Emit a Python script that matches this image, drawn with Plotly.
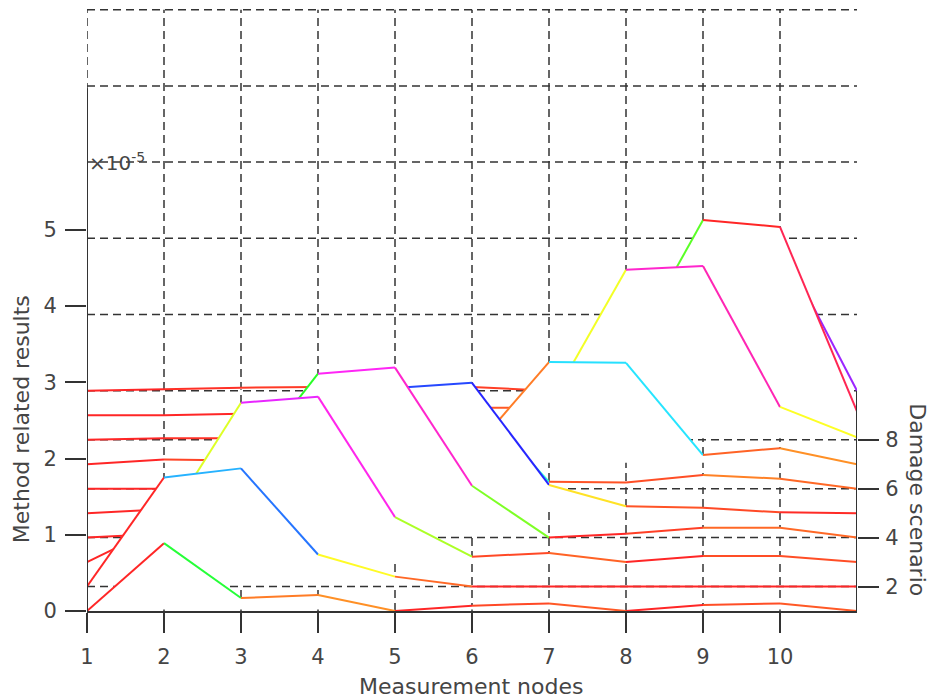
import colorsys
import plotly.graph_objects as go

# ---------------- data (values x 1e-5) ----------------
nodes = list(range(1, 12))                # measurement nodes 1..11
node_ticks = list(range(1, 11))           # labelled nodes
z_ticks = [0, 1, 2, 3, 4, 5]
scenario_ticks = [2, 4, 6, 8]
scenarios = list(range(1, 11))            # damage scenarios 1..10

s1 = [0.00, 0.89, 0.17, 0.21, 0.00, 0.07, 0.10, 0.00, 0.08, 0.10, 0.00]
s2 = [0.00, 1.43, 1.55, 0.42, 0.13, 0.00, 0.00, 0.00, 0.00, 0.00, 0.00]
s3 = [0.00, 0.49, 2.09, 2.17, 0.59, 0.07, 0.12, 0.00, 0.08, 0.08, 0.00]
s4 = [0.00, 0.05, 0.85, 2.15, 2.23, 0.68, 0.00, 0.05, 0.13, 0.13, 0.00]
s5 = [0.00, 0.05, 0.05, 0.40, 1.64, 1.71, 0.37, 0.09, 0.07, 0.01, 0.00]
s6 = [0.00, 0.00, 0.02, 0.05, 0.50, 1.20, 0.09, 0.08, 0.18, 0.13, 0.00]
s7 = [0.00, 0.06, 0.05, 0.05, 0.05, 0.17, 1.34, 1.33, 0.12, 0.21, 0.00]
s8 = [0.00, 0.02, 0.02, 0.02, 0.02, 0.05, 0.45, 2.23, 2.28, 0.43, 0.03]
s9 = [0.00, 0.00, 0.02, 0.05, 0.05, 0.10, 0.10, 0.75, 2.56, 2.47, 0.05]
s10 = [0.00, 0.02, 0.04, 0.05, 0.05, 0.05, 0.00, 0.20, 2.00, 1.94, 0.00]
series = [s1, s2, s3, s4, s5, s6, s7, s8, s9, s10]

# ---------------- view / style ----------------
DY = 0.321            # screen shift per scenario (elevated view)
WALL_Z = 5            # z extent of back wall
Y_TOP = 7.95
EPS = 0.02            # keeps curtain fill off its own floor gridline
GRID_COL = "#333333"
AX_COL = "#333333"
TXT_COL = "#454545"
FONT = "DejaVu Sans"
DASH = "8px,5px"

cmax = max(max(s) for s in series)


def hsv_color(v):
    h = min(max(v / cmax, 0.0), 1.0)
    r, g, b = colorsys.hsv_to_rgb(h % 1.0, 0.85, 1.0)
    return f"rgb({int(r*255)},{int(g*255)},{int(b*255)})"


fig = go.Figure()

back = (scenarios[-1] - 1) * DY

# grid (behind everything)
gl = dict(color=GRID_COL, width=1.5, dash=DASH)
for n in nodes[:-1]:
    fig.add_shape(type="line", x0=n, x1=n, y0=0, y1=back + WALL_Z, line=gl, layer="below")
for k in range(WALL_Z + 1):
    fig.add_shape(type="line", x0=nodes[0], x1=nodes[-1], y0=back + k, y1=back + k,
                  line=gl, layer="below")
for s in scenario_ticks:
    fig.add_shape(type="line", x0=nodes[0], x1=nodes[-1], y0=(s - 1) * DY, y1=(s - 1) * DY,
                  line=gl, layer="below")

# waterfall curtains, back to front (hidden-line removal)
for s, vals in reversed(list(zip(scenarios, series))):
    base = (s - 1) * DY
    ys = [v + base for v in vals]
    fy = [max(y, base + EPS) for y in ys]
    fig.add_trace(go.Scatter(
        x=nodes + [nodes[-1], nodes[0]], y=fy + [base + EPS, base + EPS],
        fill="toself", fillcolor="white", mode="lines",
        line=dict(width=0, color="white"), hoverinfo="skip", showlegend=False))
    for i in range(len(nodes) - 1):
        fig.add_trace(go.Scatter(
            x=[nodes[i], nodes[i + 1]], y=[ys[i], ys[i + 1]], mode="lines",
            line=dict(color=hsv_color(vals[i]), width=2),
            hoverinfo="skip", showlegend=False))

# dummy trace for the scenario axis
fig.add_trace(go.Scatter(x=[nodes[0]], y=[1], yaxis="y2", mode="markers",
                         marker=dict(opacity=0), hoverinfo="skip", showlegend=False))

# axis lines
fig.add_shape(type="line", x0=nodes[0], x1=nodes[0], y0=0, y1=back + WALL_Z - 1.03,
              line=dict(color=AX_COL, width=2), layer="above")
fig.add_shape(type="line", x0=nodes[-1], x1=nodes[-1], y0=0, y1=back,
              line=dict(color=AX_COL, width=2), layer="above")

tickfont = dict(family=FONT, size=21, color=TXT_COL)
fig.update_layout(
    width=930, height=700, autosize=False,
    margin=dict(l=87, r=73, t=5, b=89, autoexpand=False),
    paper_bgcolor="white", plot_bgcolor="white",
    xaxis=dict(range=[nodes[0], nodes[-1]], tickvals=node_ticks, ticks="outside",
               ticklen=20, tickwidth=1.5, tickcolor=AX_COL, showline=True,
               linecolor=AX_COL, linewidth=2, showgrid=False, zeroline=False,
               tickfont=tickfont, ticklabelstandoff=6),
    yaxis=dict(range=[0, Y_TOP], tickvals=z_ticks, ticks="outside", ticklen=21,
               tickwidth=1.5, tickcolor=AX_COL, showline=False, showgrid=False,
               zeroline=False, tickfont=tickfont, ticklabelstandoff=4),
    yaxis2=dict(range=[1, 1 + Y_TOP / DY], overlaying="y", side="right", anchor="x",
                tickvals=scenario_ticks, ticks="outside", ticklen=21, tickwidth=1.5,
                tickcolor=AX_COL, showline=False, showgrid=False, zeroline=False,
                tickfont=tickfont, ticklabelstandoff=2),
    showlegend=False,
)

lab = dict(family=FONT, size=22, color=TXT_COL)
fig.add_annotation(text="×10<sup>-5</sup>", x=nodes[0], y=back + 3, xref="x", yref="y",
                   xanchor="left", yanchor="middle", showarrow=False,
                   font=dict(family=FONT, size=20, color=TXT_COL))
fig.add_annotation(text="Method related results", xref="paper", yref="paper",
                   x=-0.084, y=0.317, xanchor="center", yanchor="middle",
                   textangle=-90, showarrow=False, font=lab)
fig.add_annotation(text="Measurement nodes", xref="paper", yref="paper",
                   x=0.4987, y=-0.124, xanchor="center", yanchor="middle",
                   showarrow=False, font=lab)
fig.add_annotation(text="Damage scenario", xref="paper", yref="paper",
                   x=1.079, y=0.183, xanchor="center", yanchor="middle",
                   textangle=90, showarrow=False, font=lab)

fig.write_html("out.html", config={"displayModeBar": False},
               post_script="document.body.style.margin='0';")
